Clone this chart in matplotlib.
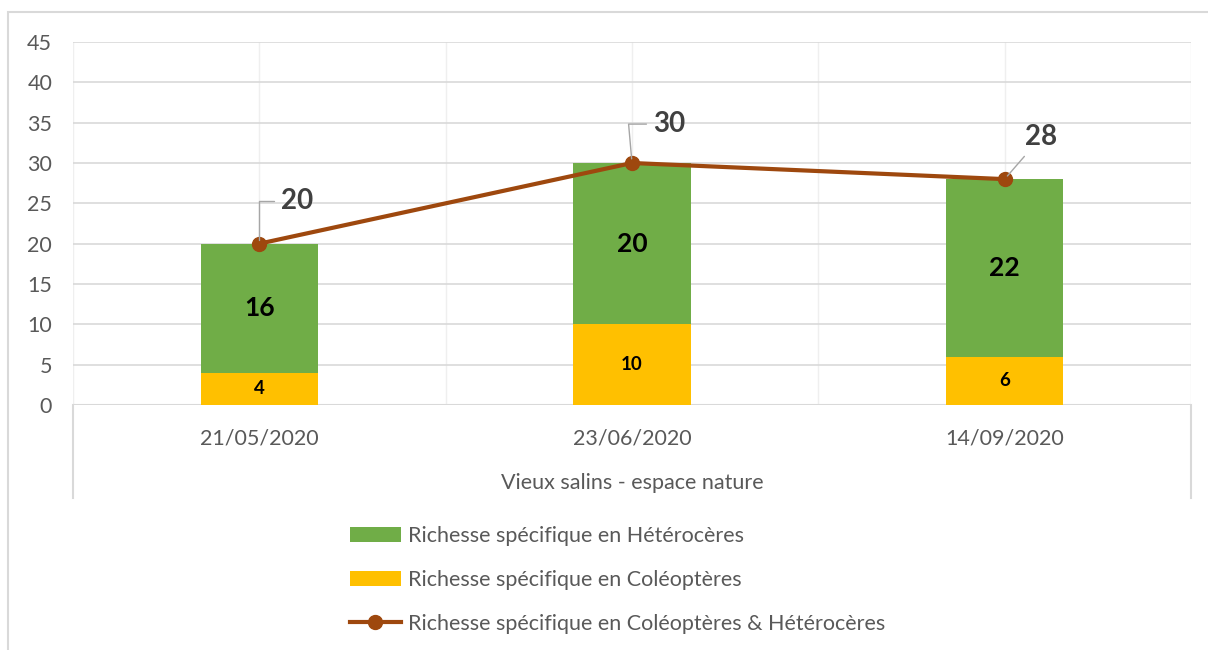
import numpy as np
import matplotlib.pyplot as plt
from matplotlib.patches import Rectangle
import matplotlib.transforms as mtransforms

plt.rcParams['font.family'] = ['Lato', 'DejaVu Sans']

dates = ['21/05/2020', '23/06/2020', '14/09/2020']
coleo = [4, 10, 6]
hetero = [16, 20, 22]
total = [20, 30, 28]
site = 'Vieux salins - espace nature'

lab_hetero = 'Richesse spécifique en Hétérocères'
lab_coleo = 'Richesse spécifique en Coléoptères'
lab_total = 'Richesse spécifique en Coléoptères & Hétérocères'

green = '#70AD47'
yellow = '#FFC000'
brown = '#9E480E'
grid = '#D9D9D9'
txt = '#595959'

W, H = 1208, 650
fig = plt.figure(figsize=(W / 100, H / 100), dpi=100)
ax = fig.add_axes([73 / W, 1 - 405 / H, (1191 - 73) / W, (405 - 42) / H])

# outer chart frame (cut at right / bottom like the screenshot)
fig.patches.append(Rectangle((8 / W, -0.1), 1.2, (H - 12) / H + 0.1,
                             transform=fig.transFigure, fill=False,
                             edgecolor=grid, lw=1.5))

x = np.arange(len(dates))
bw = 0.314
b1 = ax.bar(x, coleo, bw, color=yellow, zorder=2, label=lab_coleo)
b2 = ax.bar(x, hetero, bw, bottom=coleo, color=green, zorder=2, label=lab_hetero)
ln, = ax.plot(x, total, color=brown, lw=3, marker='o', ms=10, zorder=3, label=lab_total)

for i in range(len(x)):
    ax.text(x[i], coleo[i] / 2, str(coleo[i]), ha='center', va='center',
            fontsize=13.5, fontweight='bold', color='black', zorder=4)
    ax.text(x[i], coleo[i] + hetero[i] / 2, str(hetero[i]), ha='center', va='center',
            fontsize=19, fontweight='bold', color='black', zorder=4)

# line labels with leader lines
offs = [(27, 31), (27, 28), (26, 30)]
conns = ['angle,angleA=0,angleB=90,rad=0', 'angle,angleA=0,angleB=95,rad=0', 'arc3,rad=0']
for i in range(len(x)):
    ax.annotate(str(total[i]), xy=(x[i], total[i]), xytext=offs[i],
                textcoords='offset points', ha='center', va='center',
                fontsize=20, fontweight='bold', color='#404040', zorder=5,
                arrowprops=dict(arrowstyle='-', color='#A6A6A6', lw=1,
                                connectionstyle=conns[i], shrinkA=3, shrinkB=3))

ax.set_xlim(-0.5, len(x) - 0.5)
ax.set_ylim(0, 45)
ax.set_yticks(np.arange(0, 46, 5))
ax.set_xticks(x)
ax.set_xticklabels(dates)
ax.tick_params(axis='both', length=0, labelsize=15.5, labelcolor=txt)
ax.tick_params(axis='x', pad=17)
ax.tick_params(axis='y', pad=15)

ax.grid(axis='y', color=grid, lw=1.2, zorder=0)
for v in list(x) + list(np.arange(len(x) + 1) - 0.5):
    ax.axvline(v, color='#EFEFEF', lw=1, zorder=0)
for s in ax.spines.values():
    s.set_visible(False)
ax.axhline(0, color=grid, lw=1.5, zorder=1)

# multi-level category frame below the axis
tr = mtransforms.blended_transform_factory(ax.transAxes, ax.transAxes)
yb = (405 - 498) / (405 - 42)
ax.plot([0, 0], [0, yb], color=grid, lw=1.5, transform=tr, clip_on=False)
ax.plot([1, 1], [0, yb], color=grid, lw=1.5, transform=tr, clip_on=False)
ax.text(0.5, (405 - 483) / (405 - 42), site, transform=ax.transAxes,
        ha='center', va='center', fontsize=15.5, color=txt)

fig.legend(handles=[b2, b1, ln], labels=[lab_hetero, lab_coleo, lab_total],
           loc='upper left', bbox_to_anchor=(341 / W, 1 - 517 / H), frameon=False,
           fontsize=15.5, labelcolor=txt, handlelength=2.4, handletextpad=0.3,
           labelspacing=1.12, borderaxespad=0)

fig.savefig('out.png', dpi=100)
